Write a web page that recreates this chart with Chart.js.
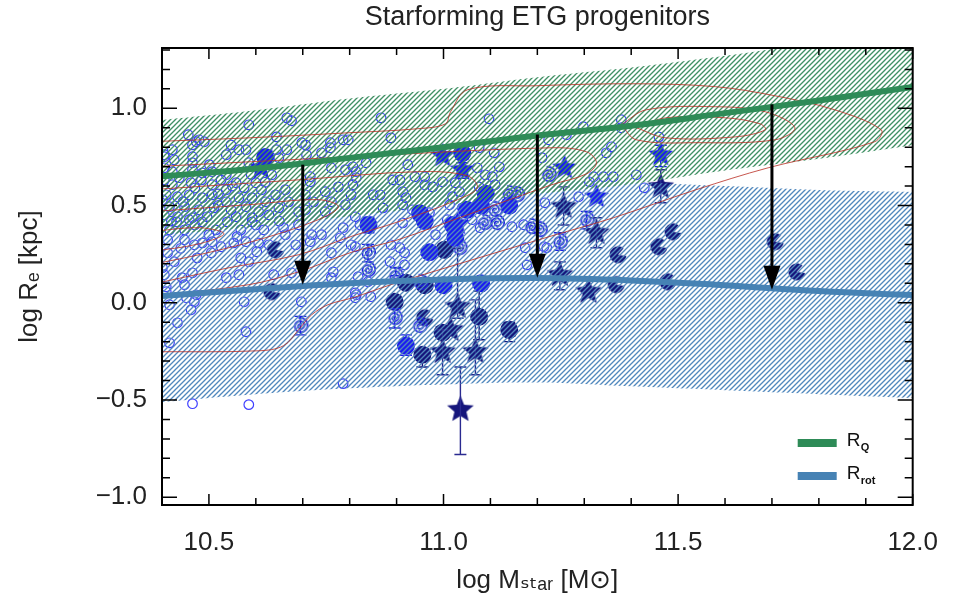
<!DOCTYPE html>
<html>
<head>
<meta charset="utf-8">
<script src="https://cdn.jsdelivr.net/npm/chart.js@4/dist/chart.umd.min.js"></script>
<style>
  html, body { margin: 0; background: #fff; }
</style>
</head>
<body>
<canvas id="c" width="960" height="610"></canvas>
<script>
// ---- data (log M_star, log R_e) ----
const chartTitle = 'Starforming ETG progenitors';
const xTicks = [10.5, 11.0, 11.5, 12.0];
const xTickLabels = ['10.5', '11.0', '11.5', '12.0'];
const yTicks = [-1.0, -0.5, 0.0, 0.5, 1.0];
const yTickLabels = ['\u22121.0', '\u22120.5', '0.0', '0.5', '1.0'];
const legendLabels = [['R', 'Q'], ['R', 'rot']];

// relations and their scatter bands
const bandMass = [10.4, 10.6, 10.8, 11.0, 11.2, 11.4, 11.6, 11.8, 12.0];
const rqLine  = [0.65, 0.69, 0.745, 0.80, 0.86, 0.91, 0.975, 1.04, 1.11];
const rqUpper = [0.94, 0.99, 1.05, 1.10, 1.16, 1.21, 1.27, 1.34, 1.41];
const rqLower = [0.35, 0.39, 0.445, 0.50, 0.56, 0.61, 0.68, 0.74, 0.81];
const rotLine  = [0.035, 0.07, 0.10, 0.12, 0.127, 0.115, 0.09, 0.06, 0.04];
const rotUpper = [0.54, 0.58, 0.61, 0.63, 0.63, 0.62, 0.60, 0.58, 0.57];
const rotLower = [-0.51, -0.47, -0.44, -0.42, -0.41, -0.43, -0.45, -0.47, -0.49];

// arrows from R_Q down to R_rot
const arrowMass = [10.7, 11.2, 11.7];
const arrowFrom = [0.71, 0.865, 1.02];
const arrowTo   = [0.093, 0.129, 0.067];

// density contours of the quiescent sample
const contours = [
  [[10.374,0.828],[10.585,0.848],[10.797,0.874],[10.945,0.895],[11.004,0.920],[11.015,0.982],[11.051,1.095],[11.199,1.116],[11.411,1.126],[11.580,1.111],[11.707,1.064],[11.834,0.992],[11.933,0.889],[11.919,0.828],[11.692,0.694],[11.538,0.581],[11.362,0.437],[11.231,0.344],[11.019,0.190],[10.888,0.093],[10.807,0.026],[10.754,-0.010],[10.719,-0.062],[10.691,-0.139],[10.659,-0.221],[10.606,-0.247],[10.374,-0.252]],
  [[10.374,0.699],[10.807,0.751],[11.231,0.797],[11.305,0.776],[11.326,0.720],[11.305,0.663],[11.231,0.607],[11.051,0.452],[10.903,0.324],[10.807,0.262],[10.691,0.159],[10.585,0.093],[10.374,0.031]],
  [[10.374,0.581],[10.691,0.632],[10.945,0.674],[11.051,0.653],[11.072,0.591],[11.030,0.530],[10.903,0.416],[10.807,0.344],[10.691,0.247],[10.543,0.180],[10.374,0.093]],
  [[10.374,0.468],[10.585,0.504],[10.733,0.530],[10.776,0.494],[10.733,0.427],[10.606,0.324],[10.479,0.247],[10.374,0.195]],
  [[10.374,0.365],[10.479,0.386],[10.532,0.355],[10.479,0.303],[10.374,0.262]],
  [[11.379,0.915],[11.432,0.992],[11.580,1.008],[11.686,0.982],[11.749,0.900],[11.707,0.838],[11.538,0.823],[11.411,0.838],[11.379,0.915]],
  [[11.411,0.900],[11.474,0.951],[11.601,0.951],[11.675,0.920],[11.686,0.889],[11.622,0.853],[11.474,0.848],[11.411,0.900]]
];

// quiescent galaxies (open circles)
const openCircles = [
  [10.585,0.915],[10.666,0.951],[10.676,0.936],[10.456,0.864],[10.473,0.828],[10.465,0.812],[10.422,0.787],[10.405,0.751],[10.426,0.735],[10.465,0.751],[10.465,0.720],[10.465,0.684],[10.547,0.812],[10.537,0.761],[10.564,0.787],[10.579,0.787],[10.644,0.853],[10.644,0.787],[10.666,0.787],[10.649,0.746],[10.706,0.812],[10.708,0.761],[10.740,0.771],[10.759,0.823],[10.759,0.797],[10.786,0.838],[10.797,0.838],[10.761,0.694],[10.791,0.684],[10.807,0.699],[10.716,0.648],[10.634,0.658],[10.585,0.720],[10.501,0.710],
  [10.479,0.838],[10.490,0.828],[10.405,0.761],[10.698,0.823],
  [10.405,0.632],[10.422,0.607],[10.437,0.643],[10.462,0.617],[10.484,0.632],[10.507,0.607],[10.526,0.632],[10.537,0.581],[10.558,0.617],[10.575,0.591],[10.600,0.617],[10.612,0.581],[10.592,0.540],[10.564,0.540],[10.537,0.519],[10.507,0.555],[10.486,0.540],[10.458,0.555],[10.433,0.545],[10.409,0.555],[10.416,0.494],[10.448,0.494],[10.479,0.478],[10.511,0.488],[10.547,0.478],[10.579,0.494],[10.606,0.468],[10.621,0.519],[10.642,0.555],[10.663,0.581],[10.670,0.519],[10.649,0.488],[10.405,0.452],[10.433,0.442],[10.465,0.437],[10.496,0.442],[10.558,0.442],[10.592,0.437],[10.628,0.452],[10.716,0.622],[10.706,0.555],[10.723,0.519],[10.748,0.571],[10.776,0.596],[10.761,0.519],[10.803,0.555],[10.791,0.504],[10.748,0.468],[10.706,0.478],[10.691,0.468],[10.422,0.674],[10.405,0.694],[10.486,0.668],[10.507,0.674],[10.537,0.658],
  [10.416,0.375],[10.539,0.416],[10.617,0.375],[10.691,0.401],[10.628,0.298],[10.448,0.375],[10.401,0.530],[10.412,0.324],[10.426,0.211],[10.470,0.590],[10.520,0.560],[10.550,0.600],[10.590,0.660],[10.620,0.620],[10.445,0.520],[10.520,0.500],[10.470,0.400],[10.500,0.350],[10.560,0.340],[10.600,0.400],[10.650,0.420],[10.420,0.420],[10.440,0.280],
  [10.431,0.416],[10.458,0.427],[10.486,0.416],[10.515,0.375],[10.568,0.375],[10.592,0.416],[10.448,0.324],[10.469,0.298],[10.486,0.308],[10.507,0.314],[10.526,0.288],[10.553,0.308],[10.579,0.314],[10.606,0.308],[10.412,0.257],[10.475,0.231],[10.505,0.257],[10.568,0.231],[10.585,0.211],[10.602,0.262],[10.659,0.386],[10.663,0.350],[10.685,0.298],[10.719,0.350],[10.716,0.314],[10.740,0.350],[10.780,0.334],[10.786,0.386],[10.761,0.257],[10.803,0.298],[10.812,0.442],[10.401,0.180],[10.405,0.144],[10.443,0.129],[10.465,0.154],[10.537,0.129],[10.564,0.144],[10.638,0.144],[10.676,0.154],[10.765,0.159],[10.761,0.129],[10.409,0.082],[10.448,0.093],[10.452,0.026],[10.469,0.005],[10.462,-0.036],[10.575,0.005],[10.697,0.005],[10.812,0.051],[10.812,0.026],[10.433,-0.103],[10.579,-0.149],[10.416,-0.010],[10.473,0.041],[10.409,0.057],[10.416,-0.206],[10.465,-0.519],[10.585,-0.524],[10.786,-0.416],
  [10.867,0.951],[11.097,0.946],[10.888,0.848],[10.835,0.720],[10.814,0.674],[10.924,0.710],[10.939,0.648],[10.907,0.632],[10.892,0.632],[10.960,0.648],[10.960,0.607],[10.977,0.596],[10.998,0.622],[11.025,0.617],[11.076,0.797],[11.108,0.771],[11.072,0.694],[11.089,0.658],[11.104,0.648],[11.119,0.699],[11.076,0.596],[11.110,0.607],[10.865,0.555],[10.850,0.555],[10.913,0.571],[10.920,0.540],[10.913,0.504],[10.934,0.478],[10.871,0.488],[11.019,0.545],[11.034,0.571],[11.013,0.504],[11.040,0.488],[10.807,0.607],[10.814,0.643],[11.216,0.514],[11.210,0.746],[10.970,0.463],
  [10.822,0.401],[10.913,0.411],[10.983,0.350],[11.008,0.427],[11.061,0.427],[11.078,0.386],[11.146,0.391],[11.171,0.401],[10.812,0.288],[10.888,0.298],[10.907,0.283],[10.917,0.257],[10.886,0.211],[10.917,0.195],[11.174,0.283],[11.178,0.195],[11.214,0.288],[10.818,0.134],[10.839,0.108],[10.845,0.031],[10.814,0.041],
  [11.224,0.838],[11.379,0.941],[11.379,0.900],[11.298,0.905],[11.262,0.864],[11.358,0.802],[11.347,0.771],[11.459,0.853],[11.320,0.648],[11.341,0.648],[11.362,0.648],[11.411,0.658],[11.311,0.622],[11.428,0.591],[11.288,0.545],[11.220,0.283]
];

// star-forming progenitors: [mass, size, err low, err high]
const brightCircles = [[10.62,0.75],[11.04,0.77],[10.84,0.40,0.36,0.44],[10.96,0.42],[11.02,0.40],[11.08,0.50],[11.14,0.50],[11.09,0.56],[10.95,0.46],[10.97,0.26],[11.00,0.09],[11.08,0.10],[10.92,-0.22,-0.27,-0.165],[11.025,0.334],[11.05,0.478]];
const navyCircles = [[10.92,0.103],[10.96,0.09],[10.896,0.005],[11.076,-0.072,-0.19,0.06],[11.14,-0.139,-0.20,-0.10],[10.998,-0.154],[10.955,-0.267,-0.33,-0.24],[11.002,0.272]];
const brightStars = [[10.611,0.694],[10.998,0.756],[11.04,0.684,0.64,0.72],[11.03,0.406],[11.258,0.694],[11.326,0.545],[11.463,0.761,0.70,0.81]];
const navyStars = [[11.248,0.144,0.067,0.21],[11.309,0.057],[11.326,0.36,0.283,0.437],[11.256,0.494,0.40,0.596],[11.463,0.596,0.514,0.684],[11.03,-0.02,-0.08,0.28],[11.015,-0.139],[10.998,-0.252,-0.37,-0.139],[11.068,-0.252,-0.37,0.015],[11.036,-0.55,-0.78,-0.33]];
const spirals = [[10.695,-0.118,-0.165,-0.07],[10.839,0.257,0.21,0.30],[10.839,0.17],[10.898,0.139,0.139,0.18],[10.896,-0.077,-0.13,-0.03],[10.949,-0.118],[10.951,0.103],[11.034,0.283],[11.087,0.411],[11.114,0.411],[11.14,0.56],[11.157,0.555],[11.11,0.478],[11.188,0.39],[11.205,0.375],[11.248,0.314,0.27,0.36],[11.224,0.658],[11.305,0.427,0.38,0.47]];
const pacmen = [[10.642,0.272],[10.634,0.057],[10.96,-0.077],[11.489,0.365],[11.459,0.288],[11.372,0.247],[11.368,0.093],[11.478,0.108],[11.707,0.314],[11.753,0.159]];

// ---- styling helpers ----
const FONT = "'Liberation Sans', 'DejaVu Sans', Arial, sans-serif";
const TEXT = '#222';
const GREEN = '#2e8b57', BLUE = '#4682b4';
const BRIGHT = '#1c1cf0', NAVY = '#16167c';

const canvas = document.getElementById('c');
const ctx = canvas.getContext('2d');

function tile(size) {
  const c = document.createElement('canvas');
  c.width = c.height = size;
  return c;
}

// diagonal line-fill like IDL polyfill /line_fill
function hatch(color) {
  const t = tile(5), g = t.getContext('2d');
  g.strokeStyle = color; g.lineWidth = 1.35;
  g.beginPath();
  g.moveTo(-1, 6); g.lineTo(6, -1);
  g.moveTo(-1, 1); g.lineTo(1, -1);
  g.moveTo(4, 6); g.lineTo(6, 4);
  g.stroke();
  return ctx.createPattern(t, 'repeat');
}

function starSym(color, r) {
  const s = Math.ceil(r * 2 + 2), t = tile(s), g = t.getContext('2d');
  g.fillStyle = color; g.beginPath();
  for (let i = 0; i < 10; i++) {
    const a = -Math.PI / 2 + i * Math.PI / 5, rr = i % 2 ? r * 0.45 : r;
    g.lineTo(s / 2 + rr * Math.cos(a), s / 2 + rr * Math.sin(a));
  }
  g.closePath(); g.fill();
  return t;
}

function spiralSym(color) {
  const t = tile(20), g = t.getContext('2d');
  g.strokeStyle = color; g.lineWidth = 1.7; g.beginPath();
  for (let a = 0; a <= 4.6 * Math.PI; a += 0.08) {
    const r = 0.6 + a * 0.52;
    g.lineTo(10 + r * Math.cos(a), 10 - r * Math.sin(a));
  }
  g.stroke();
  return t;
}

function pacSym(color) {
  const t = tile(20), g = t.getContext('2d');
  g.fillStyle = color; g.beginPath();
  g.moveTo(10, 10); g.arc(10, 10, 8.5, 0.15, 2 * Math.PI - 0.85); g.closePath(); g.fill();
  return t;
}

const pts = list => list.map(p => ({ x: p[0], y: p[1], lo: p[2], hi: p[3] }));
const curve = ys => bandMass.map((m, i) => ({ x: m, y: ys[i] }));

const symbol = (data, style, order, extra) => Object.assign({
  type: 'scatter', data: pts(data), pointStyle: style, order: order
}, extra);

const datasets = [
  symbol(openCircles, 'circle', 20, { pointRadius: 4.8, borderWidth: 1.2, borderColor: '#4040ff', backgroundColor: 'rgba(0,0,0,0)' }),
  symbol(navyCircles, 'circle', 19, { pointRadius: 9, borderWidth: 0, backgroundColor: NAVY, errColor: NAVY }),
  symbol(brightCircles, 'circle', 18, { pointRadius: 9, borderWidth: 0, backgroundColor: BRIGHT, errColor: BRIGHT }),
  symbol(pacmen, pacSym(NAVY), 17, {}),
  symbol(spirals, spiralSym('#2020e6'), 16, { errColor: '#2020e6' }),
  symbol(navyStars, starSym(NAVY, 14), 15, { errColor: '#2a2a90' }),
  symbol(brightStars, starSym(BRIGHT, 13), 14, { errColor: BRIGHT }),
  // R_rot band
  { type: 'line', data: curve(rotUpper), fill: '+1', backgroundColor: hatch('#5088bd'), borderWidth: 0, pointRadius: 0, tension: 0.4, order: 10 },
  { type: 'line', data: curve(rotLower), fill: false, borderWidth: 0, pointRadius: 0, tension: 0.4, order: 10 },
  // R_Q band
  { type: 'line', data: curve(rqUpper), fill: '+1', backgroundColor: hatch('#3f9064'), borderWidth: 0, pointRadius: 0, tension: 0.4, order: 9 },
  { type: 'line', data: curve(rqLower), fill: false, borderWidth: 0, pointRadius: 0, tension: 0.4, order: 9 }
];

contours.forEach(c => datasets.push({
  type: 'line', data: c.map(p => ({ x: p[0], y: p[1] })), borderColor: 'rgba(185,45,35,0.8)',
  borderWidth: 1, pointRadius: 0, tension: 0.35, fill: false, order: 5, clip: 0
}));

datasets.push(
  { type: 'line', data: curve(rqLine), borderColor: GREEN, borderWidth: 6, pointRadius: 0, tension: 0.4, fill: false, order: 2 },
  { type: 'line', data: curve(rotLine), borderColor: BLUE, borderWidth: 6, pointRadius: 0, tension: 0.4, fill: false, order: 2 }
);

const errorBars = {
  id: 'errorBars',
  afterDatasetDraw(chart, args) {
    const ds = chart.data.datasets[args.index];
    if (!ds.errColor) return;
    const { ctx, scales: { x, y } } = chart;
    ctx.save();
    ctx.strokeStyle = ds.errColor; ctx.lineWidth = 1.4;
    ds.data.forEach(d => {
      if (d.lo === undefined) return;
      const px = x.getPixelForValue(d.x), p1 = y.getPixelForValue(d.lo), p2 = y.getPixelForValue(d.hi);
      ctx.beginPath();
      ctx.moveTo(px, p1); ctx.lineTo(px, p2);
      ctx.moveTo(px - 6, p1); ctx.lineTo(px + 6, p1);
      ctx.moveTo(px - 6, p2); ctx.lineTo(px + 6, p2);
      ctx.stroke();
    });
    ctx.restore();
  }
};

// arrows, inward ticks, frame and the little legend
const overlay = {
  id: 'overlay',
  afterDatasetsDraw(chart) {
    const { ctx, chartArea: a, scales: { x, y } } = chart;
    ctx.save();

    ctx.strokeStyle = '#000'; ctx.fillStyle = '#000';
    arrowMass.forEach((m, i) => {
      const px = x.getPixelForValue(m), top = y.getPixelForValue(arrowFrom[i]), tip = y.getPixelForValue(arrowTo[i]);
      ctx.lineWidth = 3;
      ctx.beginPath(); ctx.moveTo(px, top); ctx.lineTo(px, tip - 20); ctx.stroke();
      ctx.beginPath(); ctx.moveTo(px, tip); ctx.lineTo(px - 8.5, tip - 24); ctx.lineTo(px + 8.5, tip - 24); ctx.closePath(); ctx.fill();
    });

    ctx.lineWidth = 1.5;
    ctx.beginPath();
    for (let k = 104; k <= 120; k++) {
      const px = x.getPixelForValue(k / 10), len = k % 5 === 0 ? 11 : 7;
      ctx.moveTo(px, a.bottom); ctx.lineTo(px, a.bottom - len);
      ctx.moveTo(px, a.top); ctx.lineTo(px, a.top + len);
    }
    for (let k = -10; k <= 13; k++) {
      const py = y.getPixelForValue(k / 10), len = k % 5 === 0 ? 15 : 8;
      ctx.moveTo(a.left, py); ctx.lineTo(a.left + len, py);
      ctx.moveTo(a.right, py); ctx.lineTo(a.right - len, py);
    }
    ctx.stroke();
    ctx.lineWidth = 2;
    ctx.strokeRect(a.left, a.top, a.right - a.left, a.bottom - a.top);

    [GREEN, BLUE].forEach((col, i) => {
      const cy = a.bottom - 62 + i * 33;
      ctx.fillStyle = col;
      ctx.fillRect(a.right - 115, cy - 4, 39, 8);
      ctx.fillStyle = '#111';
      ctx.font = '19px ' + FONT;
      ctx.textBaseline = 'alphabetic';
      ctx.fillText(legendLabels[i][0], a.right - 66, cy + 3);
      ctx.font = 'bold 11px ' + FONT;
      ctx.fillText(legendLabels[i][1], a.right - 52, cy + 8);
    });
    ctx.restore();
  }
};

new Chart(ctx, {
  type: 'scatter',
  data: { datasets },
  options: {
    responsive: false,
    animation: false,
    events: [],
    layout: { padding: { left: 0, right: 42, top: 0, bottom: 0 } },
    plugins: {
      legend: { display: false },
      tooltip: { enabled: false },
      title: {
        display: true, fullSize: false, text: chartTitle, color: TEXT,
        font: { family: FONT, size: 27, weight: 'normal' },
        padding: { top: 1, bottom: 14.6 }
      }
    },
    scales: {
      x: {
        type: 'linear', min: 10.4, max: 12.0,
        grid: { display: false, drawTicks: false }, border: { display: false },
        afterBuildTicks: s => { s.ticks = xTicks.map(v => ({ value: v })); },
        afterFit: s => { s.height = 105; },
        ticks: { color: TEXT, padding: 22, font: { family: FONT, size: 26 }, callback: (v, i) => xTickLabels[i] },
        title: { display: true, text: 'log M\u209b\u209c\u2090\u1d63 [M\u2299]', color: TEXT, font: { family: FONT, size: 26 }, padding: { top: 0, bottom: 14 } }
      },
      y: {
        type: 'linear', min: -1.04, max: 1.31,
        grid: { display: false, drawTicks: false }, border: { display: false },
        afterBuildTicks: s => { s.ticks = yTicks.map(v => ({ value: v })); },
        afterFit: s => { s.width = 162; },
        ticks: { color: TEXT, padding: 15, font: { family: FONT, size: 26 }, callback: (v, i) => yTickLabels[i] },
        title: { display: true, text: 'log R\u2091 [kpc]', color: TEXT, font: { family: FONT, size: 26 }, padding: { top: 14, bottom: 0 } }
      }
    }
  },
  plugins: [errorBars, overlay]
});
</script>
</body>
</html>
